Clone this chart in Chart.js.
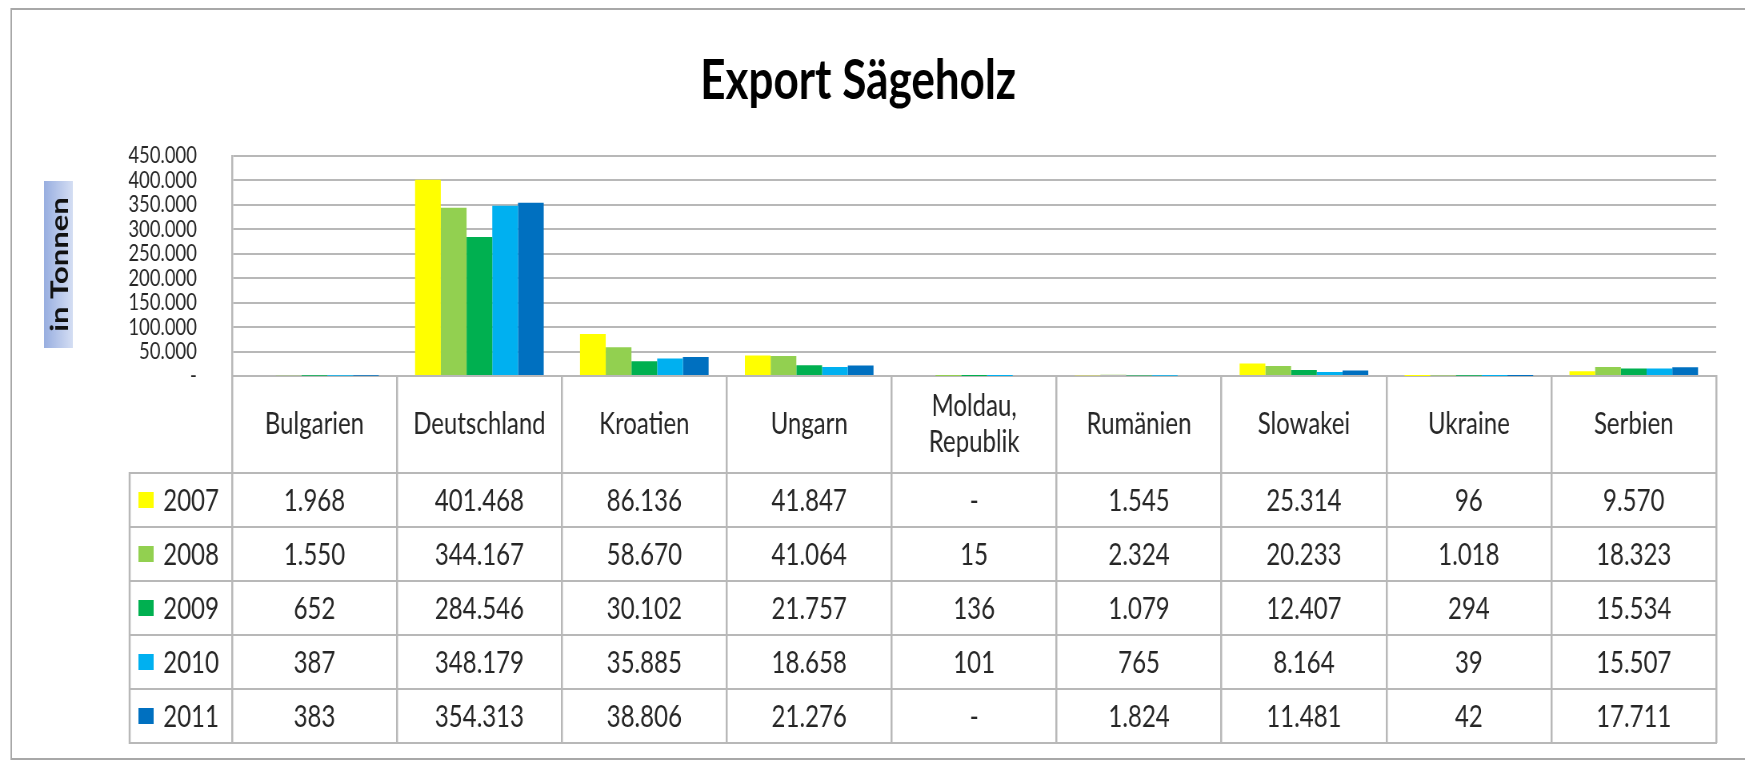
<!DOCTYPE html>
<html>
<head>
<meta charset="utf-8">
<script src="https://cdn.jsdelivr.net/npm/chart.js@4"></script>
<style>
  html, body { margin: 0; padding: 0; background: #fff; overflow: hidden; }
  /* the original is a horizontally squeezed Excel chart, so draw wide and squeeze */
  #wrap { width: 2181px; height: 760px; transform: scaleX(0.80009); transform-origin: 0 0; }
</style>
</head>
<body>
<div id="wrap"><canvas id="chart" width="2181" height="760"></canvas></div>
<script>
// Chart data
const categories = ['Bulgarien', 'Deutschland', 'Kroatien', 'Ungarn', ['Moldau,', 'Republik'], 'Rumänien', 'Slowakei', 'Ukraine', 'Serbien'];
const years = ['2007', '2008', '2009', '2010', '2011'];
const v2007 = [1968, 401468, 86136, 41847, null, 1545, 25314, 96, 9570];
const v2008 = [1550, 344167, 58670, 41064, 15, 2324, 20233, 1018, 18323];
const v2009 = [652, 284546, 30102, 21757, 136, 1079, 12407, 294, 15534];
const v2010 = [387, 348179, 35885, 18658, 101, 765, 8164, 39, 15507];
const v2011 = [383, 354313, 38806, 21276, null, 1824, 11481, 42, 17711];
const colors = ['#FFFF00', '#92D050', '#00B050', '#00B0F0', '#0070C0'];

const FONT = 'Lato, "Liberation Sans", Arial, sans-serif';
const GRID = '#b8b8b8';
const TEXT = '#262626';

// Table layout (px)
const headerH = 97;
const rowH = 54;
const legendLeft = 162;

// German thousands separator
function fmt(v) {
  if (v === null || v === 0) return '-';
  return String(v).replace(/\B(?=(\d{3})+(?!\d))/g, '.');
}

const series = [v2007, v2008, v2009, v2010, v2011];

const framePlugin = {
  id: 'frame',
  beforeDraw(chart) {
    const ctx = chart.ctx;
    ctx.save();
    ctx.strokeStyle = '#a8a8a8';
    ctx.lineWidth = 2;
    ctx.beginPath();
    ctx.moveTo(2181, 9); ctx.lineTo(14, 9); ctx.lineTo(14, 759); ctx.lineTo(2181, 759);
    ctx.stroke();

    // y axis title box "in Tonnen"
    const g = ctx.createLinearGradient(55, 0, 90, 0);
    g.addColorStop(0, '#98aee0');
    g.addColorStop(1, '#d3ddf3');
    ctx.fillStyle = g;
    ctx.fillRect(55, 181, 36, 167);
    ctx.translate(74, 264.5);
    ctx.rotate(-Math.PI / 2);
    ctx.fillStyle = '#111';
    ctx.font = 'bold 31px ' + FONT;
    ctx.textAlign = 'center';
    ctx.textBaseline = 'middle';
    ctx.fillText('in Tonnen', 0, 1);
    ctx.restore();
  },
  afterDraw(chart) {
    const ctx = chart.ctx, x = chart.scales.x, area = chart.chartArea;
    const headTop = area.bottom, headBot = headTop + headerH;
    const tableBot = headBot + rowH * series.length;
    ctx.save();
    ctx.strokeStyle = GRID;
    ctx.lineWidth = 2;
    ctx.beginPath();
    for (let r = 0; r <= series.length; r++) {
      const y = headBot + r * rowH;
      ctx.moveTo(legendLeft, y); ctx.lineTo(x.right + 1, y);
    }
    ctx.stroke();
    ctx.lineWidth = 2.5;
    ctx.beginPath();
    ctx.moveTo(legendLeft, headBot - 1); ctx.lineTo(legendLeft, tableBot + 1);
    ctx.stroke();

    ctx.fillStyle = TEXT;
    ctx.font = '30px ' + FONT;
    ctx.textAlign = 'center';
    ctx.textBaseline = 'middle';
    categories.forEach((c, i) => {
      const cx = x.getPixelForValue(i);
      const lines = Array.isArray(c) ? c : [c];
      const cy = (headTop + headBot) / 2;
      lines.forEach((t, k) => ctx.fillText(t, cx, cy + (k - (lines.length - 1) / 2) * 36));
      series.forEach((s, r) => {
        ctx.fillText(fmt(s[i]), cx, headBot + r * rowH + rowH / 2 + 1);
      });
    });

    ctx.textAlign = 'left';
    years.forEach((yr, r) => {
      const cy = headBot + r * rowH + rowH / 2;
      ctx.fillStyle = colors[r];
      ctx.fillRect(173, cy - 8, 19, 16);
      ctx.fillStyle = TEXT;
      ctx.fillText(yr, 204, cy + 1);
    });
    ctx.restore();
  }
};

new Chart(document.getElementById('chart'), {
  type: 'bar',
  data: {
    labels: categories,
    datasets: years.map((yr, i) => ({
      label: yr,
      data: series[i],
      backgroundColor: colors[i],
      borderWidth: 0,
      barPercentage: 1,
      categoryPercentage: 0.78
    }))
  },
  options: {
    responsive: false,
    animation: false,
    devicePixelRatio: 1,
    layout: { padding: { left: 0, right: 36, top: 0, bottom: 17 } },
    plugins: {
      legend: { display: false },
      tooltip: { enabled: false },
      title: {
        display: true,
        text: 'Export Sägeholz',
        color: '#000',
        font: { family: FONT, size: 55, weight: 'bold' },
        padding: { top: 48, bottom: 42 }
      }
    },
    scales: {
      x: {
        ticks: { display: false },
        grid: { drawOnChartArea: false, tickLength: headerH + rowH * 5, color: GRID, lineWidth: 2.5 },
        border: { color: GRID, width: 2 }
      },
      y: {
        min: 0,
        max: 450000,
        afterFit(s) { s.width = 290; },
        ticks: {
          stepSize: 50000,
          autoSkip: false,
          padding: 44,
          color: TEXT,
          font: { family: FONT, size: 23, lineHeight: 1 },
          callback: v => fmt(v)
        },
        grid: { color: GRID, lineWidth: 2, drawTicks: false },
        border: { color: GRID, width: 2.5 }
      }
    }
  },
  plugins: [framePlugin]
});
</script>
</body>
</html>
